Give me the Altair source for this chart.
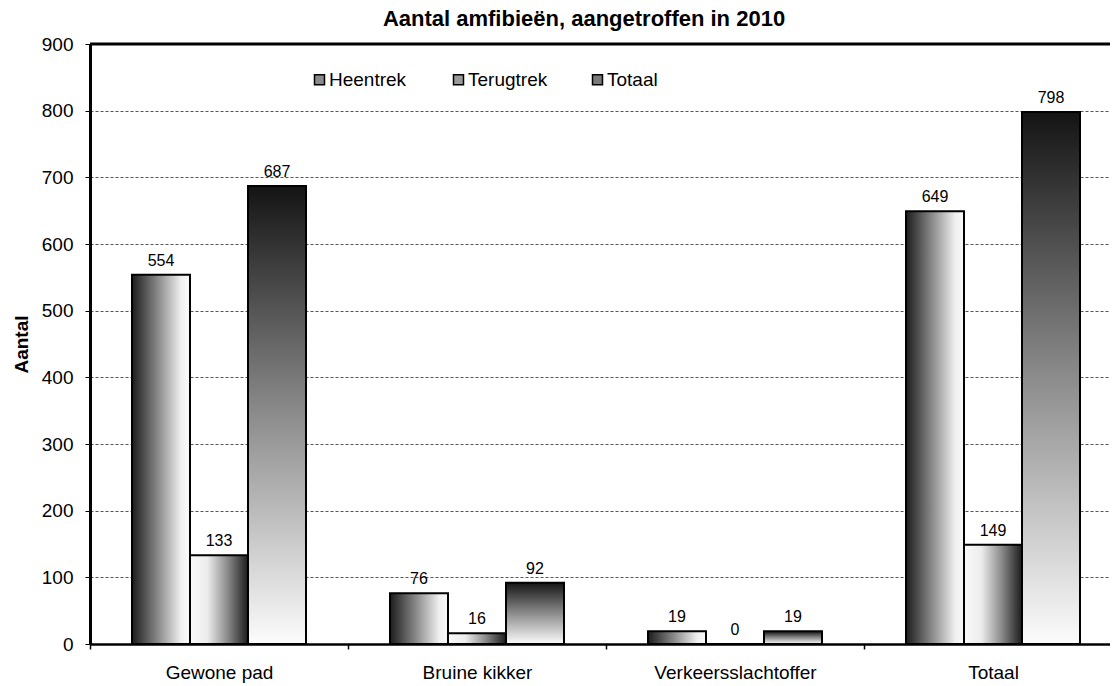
import altair as alt
import pandas as pd

categories = ["Gewone pad", "Bruine kikker", "Verkeersslachtoffer", "Totaal"]
series = ["Heentrek", "Terugtrek", "Totaal"]
heentrek = [554, 76, 19, 649]
terugtrek = [133, 16, 0, 149]
totaal = [687, 92, 19, 798]
y_ticks = [0, 100, 200, 300, 400, 500, 600, 700, 800, 900]

rows = []
for i, c in enumerate(categories):
    for s, vals in zip(series, [heentrek, terugtrek, totaal]):
        rows.append({"categorie": c, "reeks": s, "aantal": vals[i]})
df = pd.DataFrame(rows)

FONT = "Liberation Sans"
W = 1020


def grad(stops, x2, y2):
    return alt.LinearGradient(
        gradient="linear",
        stops=[alt.GradientStop(offset=o, color=c) for o, c in stops],
        x1=0, y1=0, x2=x2, y2=y2,
    )


fills = {
    "Heentrek": grad([(0, "#1c1c1c"), (0.45, "#8a8a8a"), (0.85, "#f0f0f0"), (1, "#fafafa")], 1, 0),
    "Terugtrek": grad([(0, "#fafafa"), (0.3, "#ececec"), (0.65, "#8a8a8a"), (1, "#1c1c1c")], 1, 0),
    "Totaal": grad([(0, "#141414"), (0.5, "#8c8c8c"), (1, "#fcfcfc")], 0, 1),
}

x_enc = alt.X(
    "categorie:N",
    sort=categories,
    scale=alt.Scale(paddingInner=0, paddingOuter=0, range=[0, 1032]),
    axis=alt.Axis(
        title=None, labelAngle=0, tickBand="extent", labelFontSize=19,
        labelColor="black", labelPadding=14, tickSize=5, tickColor="black",
        tickWidth=1.5, domainColor="black", domainWidth=2.5, labelFont=FONT,
    ),
)
xo_enc = alt.XOffset(
    "reeks:N", sort=series,
    scale=alt.Scale(domain=series, paddingInner=0, paddingOuter=0.724),
)
y_enc = alt.Y(
    "aantal:Q",
    scale=alt.Scale(domain=[0, 900], nice=False),
    axis=alt.Axis(
        values=y_ticks, title="Aantal", titleFontSize=19, titleFontWeight="bold",
        titleColor="black", titlePadding=10, titleFont=FONT,
        labelFontSize=19, labelColor="black", labelPadding=12, labelFont=FONT,
        tickSize=5, tickColor="black", tickWidth=1,
        domainColor="black", domainWidth=3,
        grid=True, gridColor="#555555", gridDash=[3, 2], gridWidth=1,
    ),
)

base = alt.Chart(df)

legend_layer = base.mark_bar().encode(
    x=x_enc, xOffset=xo_enc, y=y_enc,
    color=alt.Color(
        "reeks:N", sort=series,
        scale=alt.Scale(domain=series, range=["#8a8a8a", "#9a9a9a", "#7a7a7a"]),
        legend=alt.Legend(
            title=None, orient="none", legendX=220, legendY=26,
            direction="horizontal", columns=3, gridAlign="all",
            columnPadding=40, symbolType="square", symbolSize=100,
            symbolStrokeColor="black", symbolStrokeWidth=1.5, symbolOpacity=1,
            labelFontSize=19, labelOffset=0, labelColor="black", labelFont=FONT,
            padding=0,
        ),
    ),
)

bar_layers = [
    base.transform_filter(alt.datum.reeks == s)
    .mark_bar(fill=fills[s], stroke="black", strokeWidth=2)
    .encode(x=x_enc, xOffset=xo_enc, y=y_enc)
    for s in series
]

labels = base.mark_text(
    baseline="alphabetic", dy=-9, fontSize=16, font=FONT, color="black"
).encode(x=x_enc, xOffset=xo_enc, y=y_enc, text=alt.Text("aantal:Q"))

top_border = alt.Chart(pd.DataFrame({"top": [900]})).mark_rule(
    color="black", strokeWidth=3
).encode(y=alt.datum(900), x=alt.value(0), x2=alt.value(1032))

chart = alt.layer(legend_layer, *bar_layers, labels, top_border).properties(
    width=W,
    height=600,
    autosize="none",
    padding={"left": 82, "top": 36, "right": 0, "bottom": 46},
    title=alt.TitleParams(
        "Aantal amfibieën, aangetroffen in 2010",
        fontSize=22, fontWeight="bold", font=FONT, color="black",
        anchor="middle", frame="group", dx=-16, offset=4,
    ),
).configure_view(stroke=None).configure(font=FONT, background="white")

chart.save("out.html", embed_options={"renderer": "svg", "actions": False})
